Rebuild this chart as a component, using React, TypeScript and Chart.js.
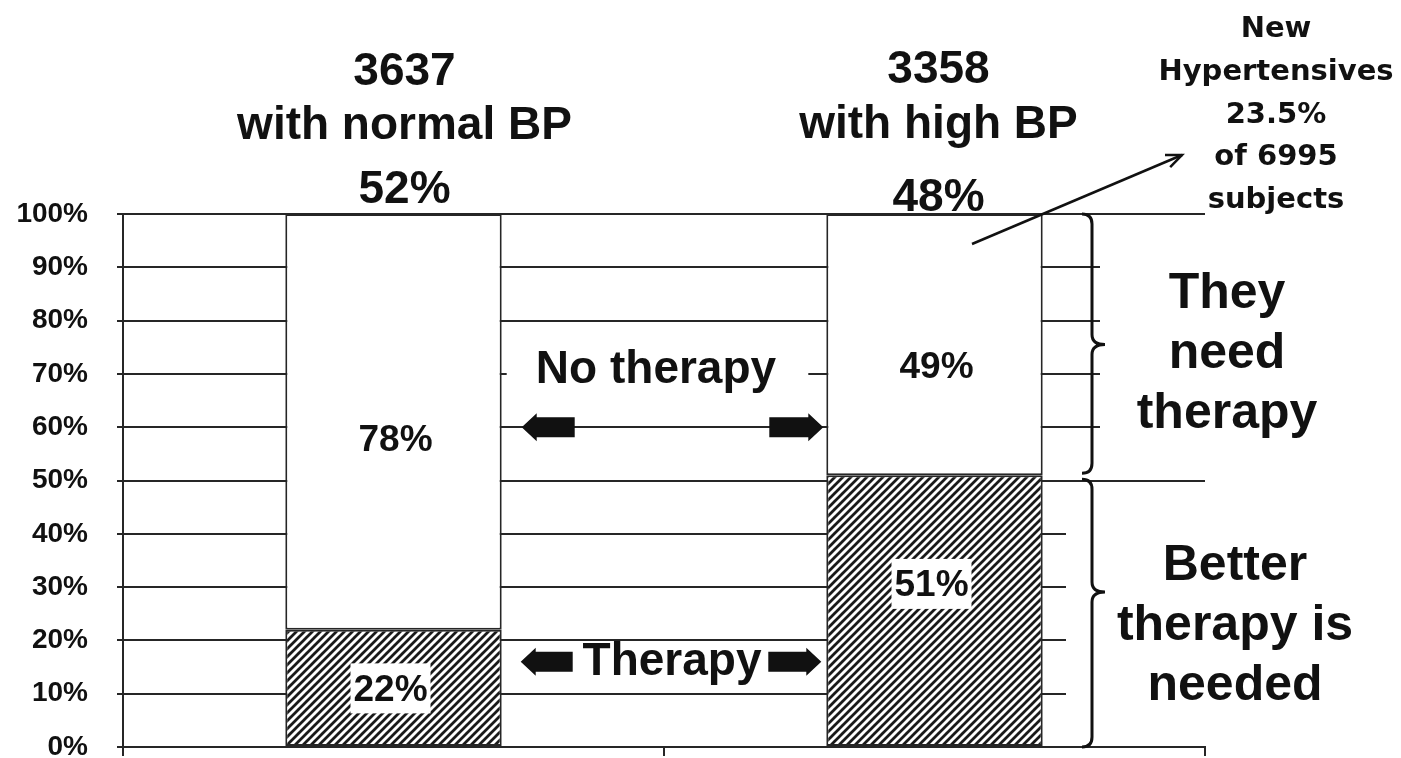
import { useEffect, useRef } from "react";
import { Chart, registerables } from "chart.js";

Chart.register(...registerables);

// ---------- data ----------
const categories = ["with normal BP", "with high BP"];
const subjectCounts = [3637, 3358];
const groupShares = [52, 48];
const therapyValues = [22, 51];
const noTherapyValues = [78, 49];
const therapyLabels = ["22%", "51%"];
const noTherapyLabels = ["78%", "49%"];
const yTickValues = [0, 10, 20, 30, 40, 50, 60, 70, 80, 90, 100];
const newHypertensivesLines = ["New", "Hypertensives", "23.5%", "of 6995", "subjects"];
const needTherapyLines = ["They", "need", "therapy"];
const betterTherapyLines = ["Better", "therapy is", "needed"];
const noTherapyText = "No therapy";
const therapyText = "Therapy";

// ---------- styles ----------
const INK = "#111111";
const LINE = "#262626";
const ARIAL = "'Liberation Sans', Arial, Helvetica, sans-serif";
const DEJAVU = "'DejaVu Sans', Verdana, sans-serif";

function makeHatch(): CanvasPattern | string {
  const c = document.createElement("canvas");
  c.width = 8;
  c.height = 8;
  const g = c.getContext("2d");
  if (!g) return "#888";
  g.fillStyle = "#ffffff";
  g.fillRect(0, 0, 8, 8);
  g.strokeStyle = "#1a1a1a";
  g.lineWidth = 2.8;
  g.beginPath();
  g.moveTo(-2, 10);
  g.lineTo(10, -2);
  g.moveTo(-2, 2);
  g.lineTo(2, -2);
  g.moveTo(6, 10);
  g.lineTo(10, 6);
  g.stroke();
  return g.createPattern(c, "repeat") || "#888";
}

function drawText(ctx: CanvasRenderingContext2D, s: string, x: number, y: number, font: string, align: CanvasTextAlign = "center") {
  ctx.font = font;
  ctx.textAlign = align;
  ctx.textBaseline = "alphabetic";
  ctx.fillText(s, x, y);
}

function blockArrow(ctx: CanvasRenderingContext2D, tipX: number, tailX: number, yc: number) {
  const dir = tipX < tailX ? -1 : 1;
  const headLen = 15;
  const baseX = tipX - dir * headLen;
  ctx.beginPath();
  ctx.moveTo(tailX, yc - 10);
  ctx.lineTo(baseX, yc - 10);
  ctx.lineTo(baseX, yc - 14);
  ctx.lineTo(tipX, yc);
  ctx.lineTo(baseX, yc + 14);
  ctx.lineTo(baseX, yc + 10);
  ctx.lineTo(tailX, yc + 10);
  ctx.closePath();
  ctx.fill();
}

function brace(ctx: CanvasRenderingContext2D, x: number, yTop: number, yBot: number, tipY: number) {
  const r = 10;
  const tip = 13;
  ctx.beginPath();
  ctx.moveTo(x - r, yTop);
  ctx.quadraticCurveTo(x, yTop, x, yTop + r);
  ctx.lineTo(x, tipY - r);
  ctx.quadraticCurveTo(x, tipY, x + tip, tipY);
  ctx.quadraticCurveTo(x, tipY, x, tipY + r);
  ctx.lineTo(x, yBot - r);
  ctx.quadraticCurveTo(x, yBot, x - r, yBot);
  ctx.stroke();
}

const overlayPlugin = {
  id: "overlay",
  afterDatasetsDraw(chart: any) {
    const ctx: CanvasRenderingContext2D = chart.ctx;
    const area = chart.chartArea;
    const xs = chart.scales.x;
    const ys = chart.scales.y;
    const m0 = chart.getDatasetMeta(0);
    const m1 = chart.getDatasetMeta(1);
    const b1 = m0.data[0];
    const b2 = m0.data[1];
    const bar1Right = b1.x + b1.width / 2;
    const bar2Left = b2.x - b2.width / 2;
    ctx.save();

    // white backgrounds that hide parts of the grid
    ctx.fillStyle = "#ffffff";
    ctx.fillRect(1100, ys.getPixelForValue(97), area.right + 6 - 1100, ys.getPixelForValue(54) - ys.getPixelForValue(97));
    ctx.fillRect(1066, ys.getPixelForValue(46), area.right + 6 - 1066, ys.getPixelForValue(2) - ys.getPixelForValue(46));
    ctx.fillRect(bar1Right + 5, ys.getPixelForValue(75.5), bar2Left - 23 - bar1Right, ys.getPixelForValue(64.5) - ys.getPixelForValue(75.5));

    // header texts above bars
    const headerDx = [11, 4];
    const headerBase = [[85, 139, 203], [83, 138, 211]];
    ctx.fillStyle = INK;
    for (let i = 0; i < categories.length; i++) {
      const cx = xs.getPixelForValue(i) + headerDx[i];
      const f = `bold 46px ${ARIAL}`;
      drawText(ctx, String(subjectCounts[i]), cx, headerBase[i][0], f);
      drawText(ctx, categories[i], cx, headerBase[i][1], f);
      drawText(ctx, `${groupShares[i]}%`, cx, headerBase[i][2], f);
    }

    // segment labels
    const fracTherapy = [0.5, 0.6];
    const fracNo = [0.46, 0.42];
    for (let i = 0; i < categories.length; i++) {
      const cx = m0.data[i].x - 3;
      const yT = ys.getPixelForValue(therapyValues[i] * fracTherapy[i]);
      ctx.fillStyle = "#ffffff";
      ctx.fillRect(cx - 40, yT - 25, 80, 50);
      ctx.fillStyle = INK;
      ctx.font = `bold 37px ${ARIAL}`;
      ctx.textAlign = "center";
      ctx.textBaseline = "middle";
      ctx.fillText(therapyLabels[i], cx, yT + 2);
      const yN = ys.getPixelForValue(therapyValues[i] + noTherapyValues[i] * fracNo[i]);
      ctx.fillText(noTherapyLabels[i], m1.data[i].x + 2, yN + 2);
    }

    // No therapy / Therapy labels with block arrows
    ctx.fillStyle = INK;
    drawText(ctx, noTherapyText, (bar1Right + bar2Left) / 2 - 8, 383, `bold 46px ${ARIAL}`);
    drawText(ctx, therapyText, (bar1Right + bar2Left) / 2 + 8, 675, `bold 46px ${ARIAL}`);
    const y60 = ys.getPixelForValue(60);
    const y16 = ys.getPixelForValue(16);
    blockArrow(ctx, bar1Right + 20, bar1Right + 73, y60);
    blockArrow(ctx, bar2Left - 3, bar2Left - 57, y60);
    blockArrow(ctx, bar1Right + 19, bar1Right + 71, y16);
    blockArrow(ctx, bar2Left - 5, bar2Left - 58, y16);

    // braces
    ctx.strokeStyle = INK;
    ctx.lineWidth = 3;
    const yTop = ys.getPixelForValue(100);
    const ySplit = ys.getPixelForValue(therapyValues[1]);
    const yBot = ys.getPixelForValue(0);
    brace(ctx, 1092, yTop, ySplit - 2, yTop + (ySplit - yTop) * 0.5);
    brace(ctx, 1092, ySplit + 4, yBot, ySplit + (yBot - ySplit) * 0.43);

    // right side texts
    ctx.fillStyle = INK;
    const needBase = [308, 368, 428];
    needTherapyLines.forEach((s, k) => drawText(ctx, s, 1227, needBase[k], `bold 50px ${ARIAL}`));
    const betterBase = [580, 640, 700];
    betterTherapyLines.forEach((s, k) => drawText(ctx, s, 1235, betterBase[k], `bold 50px ${ARIAL}`));
    const hypBase = [37, 80, 123, 165, 208];
    newHypertensivesLines.forEach((s, k) => drawText(ctx, s, 1276, hypBase[k], `bold 29px ${DEJAVU}`));

    // pointer arrow
    const x0 = 972, y0 = 244, x1 = 1182, y1 = 155;
    ctx.lineWidth = 2.5;
    ctx.beginPath();
    ctx.moveTo(x0, y0);
    ctx.lineTo(x1, y1);
    ctx.stroke();
    const ang = Math.atan2(y1 - y0, x1 - x0);
    const hl = 17;
    ctx.beginPath();
    ctx.moveTo(x1 - hl * Math.cos(ang - 0.4), y1 - hl * Math.sin(ang - 0.4));
    ctx.lineTo(x1, y1);
    ctx.lineTo(x1 - hl * Math.cos(ang + 0.4), y1 - hl * Math.sin(ang + 0.4));
    ctx.stroke();

    ctx.restore();
  },
};

export default function App() {
  const ref = useRef<HTMLCanvasElement | null>(null);

  useEffect(() => {
    const canvas = ref.current;
    if (!canvas) return;
    const hatch = makeHatch();
    const chart = new Chart(canvas, {
      type: "bar",
      data: {
        labels: categories,
        datasets: [
          {
            label: "Therapy",
            data: therapyValues,
            backgroundColor: hatch as any,
            borderColor: LINE,
            borderWidth: 2,
            borderSkipped: false,
            barPercentage: 0.4,
            categoryPercentage: 1,
          },
          {
            label: "No therapy",
            data: noTherapyValues,
            backgroundColor: "#ffffff",
            borderColor: LINE,
            borderWidth: 2,
            borderSkipped: false,
            barPercentage: 0.4,
            categoryPercentage: 1,
          },
        ],
      },
      options: {
        animation: false,
        responsive: true,
        maintainAspectRatio: false,
        layout: { padding: { top: 214, right: 196, left: 0, bottom: 0 } },
        plugins: { legend: { display: false }, tooltip: { enabled: false } },
        scales: {
          x: {
            stacked: true,
            ticks: { display: false },
            grid: { display: true, drawOnChartArea: false, tickLength: 9, color: LINE, lineWidth: 2 },
            border: { display: true, color: LINE, width: 2 },
            afterFit: (s: any) => {
              s.height = 11;
            },
          },
          y: {
            stacked: true,
            min: 0,
            max: 100,
            afterBuildTicks: (s: any) => {
              s.ticks = yTickValues.map((v) => ({ value: v }));
            },
            ticks: {
              stepSize: 10,
              padding: 29,
              color: INK,
              font: { family: ARIAL, size: 28, weight: "bold" },
              callback: (v: any) => `${v}%`,
            },
            grid: { color: LINE, lineWidth: 2, tickLength: 6 },
            border: { display: true, color: LINE, width: 2 },
            afterFit: (s: any) => {
              s.width = 123;
              s.paddingTop = 0;
              s.paddingBottom = 0;
            },
          },
        },
      } as any,
      plugins: [overlayPlugin],
    });
    return () => chart.destroy();
  }, []);

  return (
    <div style={{ position: "fixed", left: 0, top: 0, width: 1401, height: 758, background: "#fff" }}>
      <canvas ref={ref} />
    </div>
  );
}
